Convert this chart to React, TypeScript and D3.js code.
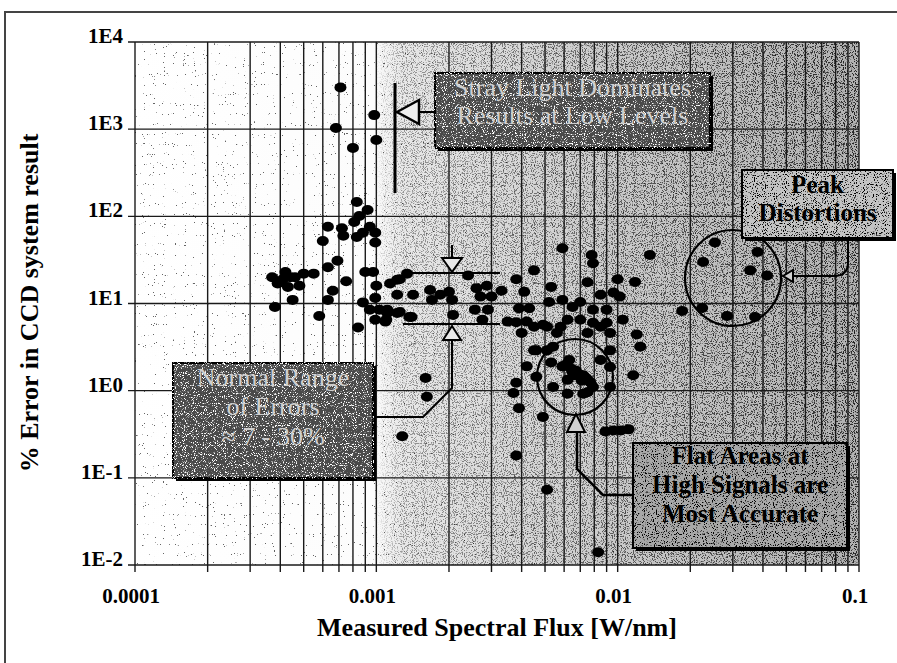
import * as d3 from "d3"

// [flux W/nm, % error]
const strayLightPoints = [
  [0.00071, 3000], [0.00098, 1450], [0.00068, 1030], [0.001, 750], [0.0008, 610],
]

const lowFluxPoints = [
  [0.00083, 146], [0.00092, 118], [0.00085, 101], [0.00081, 86], [0.00063, 76],
  [0.00072, 73], [0.00094, 76], [0.00088, 65], [0.00099, 65], [0.00073, 60],
  [0.0006, 52], [0.00083, 58], [0.00099, 50], [0.00069, 31], [0.00063, 26],
  [0.0009, 23], [0.00097, 23], [0.001, 16], [0.00075, 18], [0.00066, 14],
  [0.00063, 11], [0.00088, 10.3], [0.00094, 8.5], [0.00103, 8.5], [0.00099, 6.5],
  [0.0011, 6.5], [0.00084, 5.3], [0.00099, 11.6], [0.00058, 7.2],
  [0.00037, 20], [0.00041, 19], [0.00046, 20], [0.0005, 22], [0.00055, 22],
  [0.00043, 15.5], [0.00048, 16], [0.00045, 11], [0.00038, 9.1], [0.00039, 17],
  [0.00044, 20], [0.00042, 23],
]

const midFluxPoints = [
  [0.00114, 17], [0.00125, 19], [0.00134, 22], [0.00142, 12.6], [0.00122, 12.6],
  [0.00111, 8.5], [0.00125, 8], [0.0014, 7], [0.00109, 6.2], [0.00167, 14.3],
  [0.00184, 12.6], [0.0017, 11], [0.002, 13.6], [0.00206, 11], [0.00208, 7.4],
  [0.0024, 21], [0.0026, 15], [0.00287, 16], [0.0027, 12], [0.003, 12],
  [0.00256, 8.5], [0.0029, 8.5], [0.00275, 6.5], [0.0033, 14], [0.0038, 19],
  [0.0041, 13.6], [0.0045, 24], [0.0039, 8.8], [0.0043, 8.8], [0.0035, 6.2],
  [0.0042, 6.2], [0.0052, 10.4], [0.0053, 15.5], [0.0059, 43], [0.0059, 11],
  [0.0065, 9.1], [0.007, 10.4], [0.0078, 36], [0.0079, 29], [0.0075, 17.5],
  [0.0085, 12.6], [0.0079, 8.5], [0.007, 6.5], [0.01, 19], [0.0118, 17.7],
  [0.0102, 12], [0.009, 8.5], [0.0105, 6.5], [0.0085, 5.4], [0.0058, 5.4],
  [0.0051, 5.4], [0.0046, 2.9], [0.0054, 3.2], [0.0136, 36], [0.0096, 13.4],
  [0.012, 4.4], [0.0124, 3.2], [0.0116, 1.5], [0.00111, 7.8], [0.00122, 7.8],
  [0.00137, 7], [0.0038, 6.1], [0.004, 4.6], [0.0045, 5.4], [0.0049, 5.7],
  [0.0056, 4.6], [0.0062, 6.5], [0.0075, 4.6], [0.0079, 6], [0.009, 6],
  [0.0093, 4.6], [0.0093, 2.9], [0.0045, 2.9], [0.0051, 2.9], [0.00122, 18.7],
]

const flatAreaPoints = [
  [0.0053, 2.1], [0.0042, 1.9], [0.0046, 1.44], [0.0059, 1.9], [0.0065, 1.64],
  [0.007, 1.44], [0.0075, 1.33], [0.0063, 2.25], [0.0062, 1.33], [0.0079, 1.1],
  [0.0075, 0.96], [0.0085, 2.25], [0.0093, 1.87], [0.0093, 1.1], [0.0054, 1.1],
  [0.0062, 0.92], [0.0072, 0.92], [0.0061, 2.0], [0.0064, 1.8], [0.0067, 1.7],
  [0.0069, 1.55], [0.0072, 1.5], [0.0074, 1.4], [0.0077, 1.25], [0.0066, 1.5],
  [0.0071, 1.3],
]

const lowErrorPoints = [
  [0.0038, 1.23], [0.0037, 0.94], [0.0039, 0.63], [0.0049, 0.5], [0.0016, 1.4],
  [0.00162, 0.85], [0.00128, 0.3], [0.0089, 0.34], [0.0096, 0.35], [0.0103, 0.35],
  [0.0111, 0.36], [0.0038, 0.18], [0.0051, 0.073], [0.0083, 0.014],
]

const peakPoints = [
  [0.0253, 50], [0.038, 39], [0.0226, 30], [0.0354, 24], [0.0416, 21],
  [0.0185, 8.2], [0.0224, 8.9], [0.0284, 7.2], [0.0371, 7],
]

const xTickValues = [0.0001, 0.001, 0.01, 0.1]
const xTickLabels = ["0.0001", "0.001", "0.01", "0.1"]
const yTickValues = [1e4, 1e3, 1e2, 1e1, 1, 0.1, 0.01]
const yTickLabels = ["1E4", "1E3", "1E2", "1E1", "1E0", "1E-1", "1E-2"]

const W = 897
const H = 663
const left = 135
const right = 859
const top = 42
const bottom = 565
const serif = "'Liberation Serif', 'Times New Roman', serif"

const x = d3.scaleLog().domain([1e-4, 0.1]).range([left, right])
const y = d3.scaleLog().domain([0.01, 1e4]).range([bottom, top])

const xMinor = d3
  .range(-4, -1)
  .flatMap((e) => d3.range(1, 10).map((k) => k * Math.pow(10, e)))
  .concat([0.1])

const allPoints = [
  ...strayLightPoints,
  ...lowFluxPoints,
  ...midFluxPoints,
  ...flatAreaPoints,
  ...lowErrorPoints,
  ...peakPoints,
]

const NoteBox = ({ bx, by, w, h, fill, color, dark, size, lines, baselines }) => (
  <g>
    <rect x={bx + 3} y={by + 3} width={w} height={h} fill="#000" />
    <rect x={bx} y={by} width={w} height={h} fill={fill} stroke="#000" strokeWidth={2}
      filter={dark ? "url(#whiteGrain)" : "url(#blackGrain)"} />
    {lines.map((t, i) => (
      <text key={i} x={bx + w / 2} y={baselines[i]} textAnchor="middle"
        fontFamily={serif} fontSize={size} fontWeight={dark ? "normal" : "bold"} fill={color}>
        {t}
      </text>
    ))}
  </g>
)

export default function App() {
  const ink = "#000"
  return (
    <svg width={W} height={H} style={{ position: "absolute", left: 0, top: 0, background: "#fff" }}>
      <defs>
        <linearGradient id="bgGrad" x1="0" x2="1" y1="0" y2="0">
          <stop offset="0" stopColor="#ffffff" />
          <stop offset="0.33" stopColor="#fcfcfc" />
          <stop offset="0.37" stopColor="#e8e8e8" />
          <stop offset="0.65" stopColor="#cbcbcb" />
          <stop offset="1" stopColor="#b2b2b2" />
        </linearGradient>
        <linearGradient id="speckGrad" x1="0" x2="1" y1="0" y2="0">
          <stop offset="0" stopColor="#000" />
          <stop offset="0.33" stopColor="#000" />
          <stop offset="0.37" stopColor="#5a5a5a" />
          <stop offset="1" stopColor="#c8c8c8" />
        </linearGradient>
        <filter id="speckle" x="0" y="0" width="100%" height="100%" colorInterpolationFilters="sRGB">
          <feTurbulence type="fractalNoise" baseFrequency="0.9" numOctaves="1" seed="4" />
          <feColorMatrix type="matrix" values="0 0 0 0 0  0 0 0 0 0  0 0 0 0 0  12 0 0 0 -6.3" />
        </filter>
        <filter id="sparse" x="0" y="0" width="100%" height="100%" colorInterpolationFilters="sRGB">
          <feTurbulence type="fractalNoise" baseFrequency="0.9" numOctaves="1" seed="11" />
          <feColorMatrix type="matrix" values="0 0 0 0 0  0 0 0 0 0  0 0 0 0 0  40 0 0 0 -28.5" />
        </filter>
        <mask id="speckMask">
          <rect x={left} y={top} width={right - left} height={bottom - top} fill="url(#speckGrad)" />
        </mask>
        <filter id="whiteGrain" colorInterpolationFilters="sRGB">
          <feTurbulence type="fractalNoise" baseFrequency="0.9" numOctaves="1" seed="7" result="n" />
          <feColorMatrix in="n" type="matrix" values="0 0 0 0 1  0 0 0 0 1  0 0 0 0 1  10 0 0 0 -5.6" result="d" />
          <feComposite in="d" in2="SourceAlpha" operator="in" result="dc" />
          <feMerge><feMergeNode in="SourceGraphic" /><feMergeNode in="dc" /></feMerge>
        </filter>
        <filter id="blackGrain" colorInterpolationFilters="sRGB">
          <feTurbulence type="fractalNoise" baseFrequency="0.9" numOctaves="1" seed="9" result="n" />
          <feColorMatrix in="n" type="matrix" values="0 0 0 0 0  0 0 0 0 0  0 0 0 0 0  10 0 0 0 -5.6" result="d" />
          <feComposite in="d" in2="SourceAlpha" operator="in" result="dc" />
          <feMerge><feMergeNode in="SourceGraphic" /><feMergeNode in="dc" /></feMerge>
        </filter>
      </defs>

      {/* page frame */}
      <path d={`M5,${H} V12 H${W}`} fill="none" stroke="#444" strokeWidth={2} />

      {/* plot background */}
      <rect x={left} y={top} width={right - left} height={bottom - top} fill="url(#bgGrad)" />
      <rect x={left} y={top} width={right - left} height={bottom - top} fill="#000"
        filter="url(#sparse)" opacity={0.6} />
      <rect x={left} y={top} width={right - left} height={bottom - top} fill="#000"
        filter="url(#speckle)" mask="url(#speckMask)" />

      {/* grid */}
      {xMinor.map((v, i) => (
        <g key={"xv" + i}>
          <line x1={x(v)} x2={x(v)} y1={top} y2={bottom} stroke="#1a1a1a" strokeWidth={1.4} />
          <line x1={x(v)} x2={x(v)} y1={bottom} y2={bottom + 7} stroke="#1a1a1a" strokeWidth={1.4} />
        </g>
      ))}
      {yTickValues.map((v, i) => (
        <line key={"yh" + i} x1={left - 7} x2={right} y1={y(v)} y2={y(v)} stroke="#1a1a1a" strokeWidth={1.4} />
      ))}

      {/* tick labels */}
      {yTickValues.map((v, i) => (
        <text key={"yl" + i} x={left - 12} y={y(v) + 1} textAnchor="end" fontFamily={serif}
          fontWeight="bold" fontSize={21} fill={ink}>
          {yTickLabels[i]}
        </text>
      ))}
      {xTickValues.map((v, i) => (
        <text key={"xl" + i} x={x(v) - 4} y={603} textAnchor="middle" fontFamily={serif}
          fontWeight="bold" fontSize={21} fill={ink}>
          {xTickLabels[i]}
        </text>
      ))}

      {/* axis titles */}
      <text x={497} y={636} textAnchor="middle" fontFamily={serif} fontWeight="bold" fontSize={26} fill={ink}>
        Measured Spectral Flux [W/nm]
      </text>
      <text transform="translate(38,303) rotate(-90)" textAnchor="middle" fontFamily={serif}
        fontWeight="bold" fontSize={26} fill={ink}>
        % Error in CCD system result
      </text>

      {/* points */}
      {allPoints.map(([fx, e], i) => (
        <ellipse key={"p" + i} cx={x(fx)} cy={y(e)} rx={6} ry={5} fill={ink} />
      ))}

      {/* stray light annotation */}
      <line x1={395} x2={395} y1={83} y2={193} stroke={ink} strokeWidth={3} />
      <path d="M397,112 L419,100 L419,124 Z" fill="#eeeeee" stroke={ink} strokeWidth={2.5} />
      <line x1={419} x2={435} y1={112} y2={112} stroke={ink} strokeWidth={2} />
      <NoteBox bx={435} by={73} w={275} h={75} fill="#4a4a4a" color="#cfcfcf" dark={true} size={26}
        lines={["Stray Light Dominates", "Results at Low Levels"]} baselines={[96, 124]} />

      {/* normal range annotation */}
      <line x1={403} x2={500} y1={273} y2={273} stroke={ink} strokeWidth={2} />
      <line x1={403} x2={500} y1={324} y2={324} stroke={ink} strokeWidth={2} />
      <line x1={452} x2={452} y1={245} y2={258} stroke={ink} strokeWidth={2} />
      <path d="M452,272 L442,258 L462,258 Z" fill="#e8e8e8" stroke={ink} strokeWidth={2} />
      <path d="M452,326 L443,340 L461,340 Z" fill="#e8e8e8" stroke={ink} strokeWidth={2} />
      <path d="M373,417 H423 L452,388 V340" fill="none" stroke={ink} strokeWidth={2} />
      <NoteBox bx={173} by={363} w={200} h={115} fill="#4a4a4a" color="#cfcfcf" dark={true} size={26}
        lines={["Normal Range", "of Errors", "≈ 7 - 30%"]} baselines={[386, 415, 445]} />

      {/* peak distortions annotation */}
      <circle cx={733} cy={278} r={48} fill="none" stroke={ink} strokeWidth={2.2} />
      <path d="M848,238 V262 Q848,276 834,276 H793" fill="none" stroke={ink} strokeWidth={2} />
      <path d="M783,276 L793,270 L793,282 Z" fill="#d0d0d0" stroke={ink} strokeWidth={2} />
      <NoteBox bx={742} by={170} w={151} h={68} fill="#c4c4c4" color="#000" dark={false} size={25}
        lines={["Peak", "Distortions"]} baselines={[193, 221]} />

      {/* flat areas annotation */}
      <circle cx={575} cy={377} r={38} fill="none" stroke={ink} strokeWidth={2.2} />
      <path d="M633,495 H603 L577,469 V432" fill="none" stroke={ink} strokeWidth={2.5} />
      <path d="M576,414 L567,432 L585,432 Z" fill="#d0d0d0" stroke={ink} strokeWidth={2} />
      <NoteBox bx={633} by={443} w={214} h={105} fill="#a8a8a8" color="#000" dark={false} size={25}
        lines={["Flat Areas at", "High Signals are", "Most Accurate"]} baselines={[464, 493, 522]} />
    </svg>
  )
}
